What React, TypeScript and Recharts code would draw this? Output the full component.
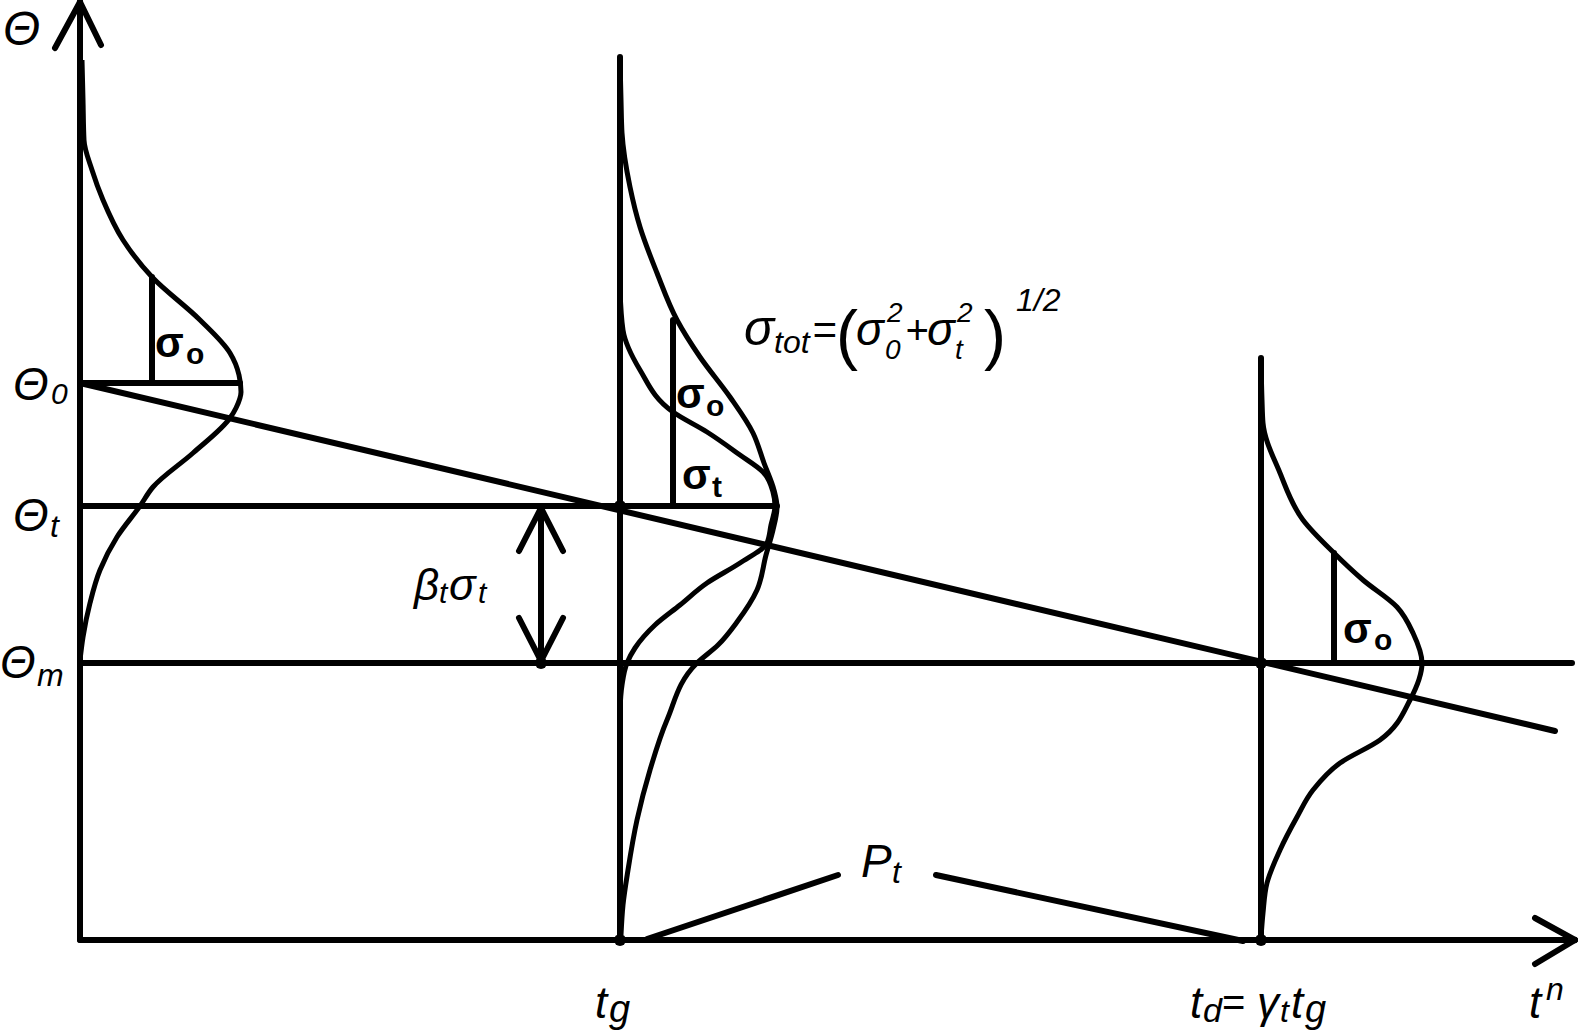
import { ComposedChart, XAxis, YAxis, Line, ReferenceLine, ReferenceDot } from 'recharts';

const W = 1578;
const H = 1033;

// t: time axis units, theta: temperature units with Θm = 0
const T_DOMAIN = [-80, 1498];
const THETA_DOMAIN = [-370, 663];
const BASE = -277;

// bell curves, listed from top to bottom as [t, theta]
const curveStart = [
  [2, 603], [3, 563], [4, 523], [12, 493], [23, 463], [43, 423], [72, 386], [120, 343],
  [150, 310], [159, 288], [161, 271], [156, 255], [150, 245], [113, 210], [73, 176],
  [60, 157], [37, 126], [20, 93], [10, 60], [3, 26], [0, 3],
];
const curveTotal = [
  [540, 603], [541, 563], [542, 530], [550, 476], [560, 436], [577, 390], [597, 343],
  [620, 306], [650, 266], [673, 230], [684, 200], [694, 173], [697, 156], [693, 133],
  [686, 108], [677, 73], [657, 41], [638, 18], [617, 0], [587, -57], [570, -107],
  [557, -157], [548, -207], [543, -242], [541, -272],
];
const curveNarrow = [
  [540, 373], [543, 333], [560, 293], [593, 251], [627, 231], [660, 208], [683, 191],
  [693, 171], [695, 157], [691, 138], [687, 120], [660, 100], [627, 80], [600, 58],
  [575, 38], [555, 15], [547, 0], [542, -22], [540, -47],
];
const curveEnd = [
  [1181, 303], [1182, 263], [1183, 240], [1200, 190], [1223, 143], [1254, 110], [1283, 83],
  [1317, 56], [1333, 30], [1342, 0], [1330, -37], [1300, -77], [1260, -100], [1233, -127],
  [1217, -154], [1200, -187], [1187, -220], [1183, -250], [1181, -275],
];

// straight strokes as [[t0, theta0], [t1, theta1]]
const axisLines = [
  [[0, BASE], [0, 661]], [[-25, 615], [0, 661]], [[21, 618], [0, 661]],
  [[0, BASE], [1495, BASE]], [[1455, -255], [1495, BASE]], [[1455, -301], [1495, BASE]],
];
const levelLines = [[[0, 280], [160, 280]], [[0, 157], [697, 157]], [[0, 0], [1492, 0]]];
const timeLines = [[[540, 606], [540, BASE]], [[1181, 305], [1181, BASE]]];
const sigmaTicks = [[[72, 386], [72, 280]], [[593, 343], [593, 157]], [[1254, 110], [1254, 0]]];
const trendLine = [[[0, 280], [1475, -68]]];
const betaArrow = [
  [[461, 157], [461, 0]], [[439, 112], [461, 155]], [[483, 112], [461, 155]],
  [[439, 45], [461, 2]], [[483, 45], [461, 2]],
];
const pLeaders = [[[758, -212], [567, -276]], [[856, -212], [1163, -278]]];
const dots = [[540, BASE], [1181, BASE], [461, 0], [540, 157], [1181, 0]];

const rows = (pts: number[][]) => pts.map(([t, theta]) => ({ t, theta })).reverse();

const font = '"Liberation Sans", Arial, sans-serif';

export default function App() {
  const segs = [...axisLines, ...levelLines, ...timeLines, ...sigmaTicks, ...trendLine, ...betaArrow, ...pLeaders];
  const curves = [curveStart, curveTotal, curveNarrow, curveEnd];
  const it = { fontFamily: font, fontStyle: 'italic' as const, fill: '#000' };
  const bd = { fontFamily: font, fontWeight: 700, fill: '#000' };
  return (
    <div style={{ position: 'fixed', left: 0, top: 0, width: W, height: H, background: '#fff' }}>
      <ComposedChart width={W} height={H} margin={{ top: 0, right: 0, bottom: 0, left: 0 }}>
        <XAxis dataKey="t" type="number" domain={T_DOMAIN} allowDataOverflow hide />
        <YAxis type="number" domain={THETA_DOMAIN} allowDataOverflow hide />
        {segs.map((s, i) => (
          <ReferenceLine
            key={'s' + i}
            segment={[{ x: s[0][0], y: s[0][1] }, { x: s[1][0], y: s[1][1] }]}
            stroke="#000"
            strokeWidth={6}
            strokeLinecap="round"
            ifOverflow="visible"
          />
        ))}
        {curves.map((c, i) => (
          <Line
            key={'c' + i}
            data={rows(c)}
            dataKey="theta"
            type="monotoneY"
            stroke="#000"
            strokeWidth={5}
            dot={false}
            activeDot={false}
            isAnimationActive={false}
          />
        ))}
        {dots.map((d, i) => (
          <ReferenceDot key={'d' + i} x={d[0]} y={d[1]} r={6} fill="#000" stroke="none" ifOverflow="visible" />
        ))}
      </ComposedChart>
      <svg width={W} height={H} style={{ position: 'absolute', left: 0, top: 0, pointerEvents: 'none' }}>
        <text x={3} y={45} fontSize={48} {...it}>Θ</text>

        <text x={13} y={400} fontSize={46} {...it}>Θ</text>
        <text x={51} y={404} fontSize={30} {...it}>0</text>
        <text x={13} y={531} fontSize={46} {...it}>Θ</text>
        <text x={50} y={537} fontSize={32} {...it}>t</text>
        <text x={0} y={678} fontSize={46} {...it}>Θ</text>
        <text x={37} y={686} fontSize={32} {...it}>m</text>

        <text x={414} y={600} fontSize={44} {...it}>β</text>
        <text x={439} y={603} fontSize={30} {...it}>t</text>
        <text x={449} y={600} fontSize={44} {...it}>σ</text>
        <text x={478} y={603} fontSize={30} {...it}>t</text>

        <text x={744} y={345} fontSize={50} {...it}>σ</text>
        <text x={774} y={353} fontSize={32} {...it}>tot</text>
        <text x={812} y={344} fontSize={42} {...it}>=</text>
        <text x={836} y={357} fontSize={66} fontFamily={font}>(</text>
        <text x={856} y={345} fontSize={46} {...it}>σ</text>
        <text x={887} y={322} fontSize={28} {...it}>2</text>
        <text x={885} y={359} fontSize={28} {...it}>0</text>
        <text x={905} y={344} fontSize={40} {...it}>+</text>
        <text x={927} y={345} fontSize={46} {...it}>σ</text>
        <text x={957} y={322} fontSize={28} {...it}>2</text>
        <text x={955} y={359} fontSize={28} {...it}>t</text>
        <text x={984} y={357} fontSize={66} fontFamily={font}>)</text>
        <text x={1016} y={311} fontSize={32} {...it}>1/2</text>

        <text x={155} y={357} fontSize={42} {...bd}>σ</text>
        <text x={186} y={364} fontSize={30} {...bd}>o</text>
        <text x={676} y={408} fontSize={42} {...bd}>σ</text>
        <text x={706} y={416} fontSize={30} {...bd}>o</text>
        <text x={682} y={489} fontSize={42} {...bd}>σ</text>
        <text x={712} y={497} fontSize={30} {...bd}>t</text>
        <text x={1343} y={643} fontSize={42} {...bd}>σ</text>
        <text x={1374} y={650} fontSize={30} {...bd}>o</text>

        <text x={861} y={877} fontSize={46} {...it}>P</text>
        <text x={892} y={883} fontSize={32} {...it}>t</text>

        <text x={595} y={1018} fontSize={44} {...it}>t</text>
        <text x={609} y={1022} fontSize={38} {...it}>g</text>

        <text x={1190} y={1018} fontSize={44} {...it}>t</text>
        <text x={1203} y={1022} fontSize={34} {...it}>d</text>
        <text x={1222} y={1016} fontSize={40} fontFamily={font}>=</text>
        <text x={1257} y={1018} fontSize={44} {...it}>γ</text>
        <text x={1280} y={1022} fontSize={32} {...it}>t</text>
        <text x={1291} y={1018} fontSize={44} {...it}>t</text>
        <text x={1305} y={1022} fontSize={38} {...it}>g</text>

        <text x={1529} y={1018} fontSize={44} {...it}>t</text>
        <text x={1546} y={1000} fontSize={32} {...it}>n</text>
      </svg>
    </div>
  );
}
